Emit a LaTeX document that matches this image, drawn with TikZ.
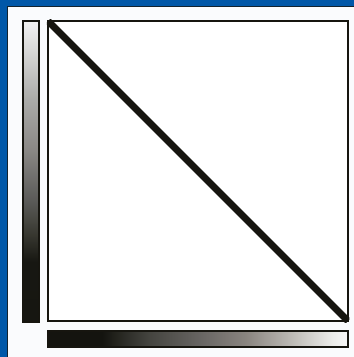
\documentclass[tikz,border=0pt]{standalone}
\usetikzlibrary{shadings}
\definecolor{frameblue}{HTML}{0057A8}
\definecolor{bgpaper}{HTML}{FAFBFD}
\definecolor{ink}{HTML}{16150F}
\pgfdeclareverticalshading{vbar}{100bp}{rgb(0bp)=(0.08,0.08,0.06); rgb(35bp)=(0.09,0.09,0.07); rgb(40bp)=(0.23,0.23,0.2); rgb(45bp)=(0.35,0.35,0.34); rgb(53.5bp)=(0.54,0.53,0.52); rgb(62bp)=(0.67,0.67,0.66); rgb(75bp)=(0.95,0.95,0.95); rgb(100bp)=(0.95,0.95,0.95)}
\pgfdeclarehorizontalshading{hbar}{100bp}{rgb(0bp)=(0.08,0.08,0.06); rgb(34bp)=(0.08,0.08,0.06); rgb(42bp)=(0.27,0.27,0.25); rgb(50bp)=(0.4,0.39,0.38); rgb(58bp)=(0.54,0.52,0.5); rgb(66bp)=(0.75,0.74,0.72); rgb(72.5bp)=(0.93,0.93,0.92); rgb(75bp)=(0.97,0.97,0.97); rgb(100bp)=(0.97,0.97,0.97)}
\tikzset{
  bar/.style={draw=ink, line width=1.6pt, shade, inner sep=0pt, outer sep=0pt},
  plot/.style={draw=ink, line width=2.5pt, fill=white, inner sep=0pt, outer sep=0pt, minimum width=300pt, minimum height=300pt}
}
\begin{document}
\begin{tikzpicture}[x=1pt,y=-1pt]
\useasboundingbox (0,0) rectangle (354,357);
\fill[bgpaper] (0,0) rectangle (354,357);
% blue frame (top and left)
\fill[frameblue] (0,0) rectangle (354,6);
\fill[frameblue] (0,0) rectangle (7,357);
\draw[ink!80!frameblue, line width=1pt] (7.5,357) -- (7.5,6.5) -- (354,6.5);
% plot square
\node[plot] (sq) at (198,171) {};
\begin{scope}
  \clip ([shift={(-1.25pt,1.25pt)}]sq.north west) rectangle ([shift={(1.25pt,-1.25pt)}]sq.south east);
  \draw[ink, line width=7pt] (sq.north west) -- (sq.south east);
\end{scope}
% vertical gradient bar
\node[bar, shading=vbar, minimum width=16pt, minimum height=301pt] (vb) at (31,171.5) {};
% horizontal gradient bar
\node[bar, shading=hbar, minimum width=300pt, minimum height=16pt] (hb) at (198,339) {};
\end{tikzpicture}
\end{document}
